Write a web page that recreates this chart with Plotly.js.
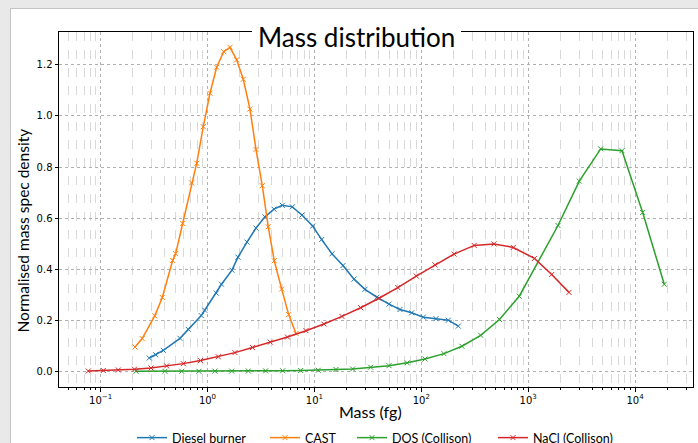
<!DOCTYPE html>
<html>
<head>
<meta charset="utf-8">
<script src="https://cdn.plot.ly/plotly-3.0.1.min.js"></script>
<style>
  html, body { margin: 0; padding: 0; background: #e9e9e9; width: 698px; height: 443px; overflow: hidden; }
  #frame { position: absolute; left: 10px; top: 8px; width: 688px; height: 435px; border-left: 1px solid #c4c4c4; border-top: 1px solid #c4c4c4; background: #ffffff; }
  #chart { position: absolute; left: 0; top: 0; width: 687px; height: 434px; }
</style>
</head>
<body>
<div id="frame"><div id="chart"></div></div>
<script>
// ---- Data ----
const dieselMass = [0.2855, 0.327, 0.386, 0.553, 0.661, 0.875, 0.942, 1.209, 1.352, 1.694, 1.929, 2.342, 2.843, 3.451, 4.19, 5.01, 6.22, 7.65, 9.64, 11.70, 14.61, 18.52, 23.49, 29.73, 38.5, 49.9, 63.2, 81.3, 104.4, 137.2, 178.9, 222];
const dieselDensity = [0.052, 0.065, 0.082, 0.129, 0.164, 0.218, 0.239, 0.306, 0.341, 0.396, 0.447, 0.506, 0.561, 0.605, 0.635, 0.650, 0.644, 0.612, 0.569, 0.516, 0.460, 0.414, 0.361, 0.321, 0.290, 0.263, 0.242, 0.229, 0.212, 0.206, 0.200, 0.177];

const castMass = [0.210, 0.245, 0.321, 0.378, 0.472, 0.504, 0.586, 0.711, 0.793, 0.914, 1.055, 1.219, 1.418, 1.624, 1.875, 2.162, 2.498, 2.843, 3.256, 3.703, 4.215, 4.945, 5.75, 6.73];
const castDensity = [0.095, 0.128, 0.217, 0.289, 0.434, 0.461, 0.579, 0.738, 0.815, 0.958, 1.089, 1.191, 1.252, 1.269, 1.220, 1.144, 1.027, 0.869, 0.727, 0.566, 0.433, 0.322, 0.222, 0.148];

const dosMass = [0.2143, 0.400, 0.574, 0.832, 1.175, 1.684, 2.41, 3.50, 5.05, 7.44, 10.87, 15.92, 22.8, 33.6, 49.9, 73.9, 108.3, 163, 240, 359.5, 538.7, 825.6, 1901, 3008, 4767, 7550, 11780, 18750];
const dosDensity = [0.000, 0.000, 0.000, 0.000, 0.0005, 0.0007, 0.001, 0.0015, 0.002, 0.003, 0.004, 0.007, 0.009, 0.016, 0.022, 0.033, 0.048, 0.069, 0.098, 0.141, 0.203, 0.294, 0.571, 0.745, 0.871, 0.864, 0.622, 0.341];

const naclMass = [0.0767, 0.106, 0.1465, 0.2075, 0.296, 0.415, 0.594, 0.860, 1.262, 1.807, 2.636, 3.87, 5.60, 8.34, 12.3, 18.1, 27.1, 40.2, 60.3, 89.8, 134.3, 202.3, 312.6, 478.6, 725.5, 1145, 1660, 2409];
const naclDensity = [0.001, 0.003, 0.005, 0.008, 0.013, 0.021, 0.030, 0.042, 0.057, 0.073, 0.093, 0.114, 0.134, 0.159, 0.185, 0.215, 0.249, 0.286, 0.328, 0.373, 0.417, 0.459, 0.493, 0.499, 0.485, 0.442, 0.379, 0.309];

const seriesNames = ["Diesel burner", "CAST", "DOS (Collison)", "NaCl (Collison)"];
const seriesColors = ["#1f77b4", "#ff7f0e", "#2ca02c", "#d62728"];

const xTickVals = [0.1, 1, 10, 100, 1000, 10000];
const xTickText = ["10<sup>\u22121</sup>", "10<sup>0</sup>", "10<sup>1</sup>", "10<sup>2</sup>", "10<sup>3</sup>", "10<sup>4</sup>"];
const yTickVals = [0.0, 0.2, 0.4, 0.6, 0.8, 1.0, 1.2];

const titleText = "Mass distribution";
const xTitle = "Mass (fg)";
const yTitle = "Normalised mass spec density";

// minor tick positions (2..9 x each decade)
const minorVals = [];
for (let d = -2; d <= 4; d++) for (let k = 2; k <= 9; k++) minorVals.push(k * Math.pow(10, d));

const xs = [dieselMass, castMass, dosMass, naclMass];
const ys = [dieselDensity, castDensity, dosDensity, naclDensity];
const legendIds = ["legend", "legend2", "legend3", "legend4"];

const traces = xs.map((x, i) => ({
  x: x, y: ys[i], name: seriesNames[i], type: "scatter", mode: "lines+markers",
  legend: legendIds[i],
  line: { color: seriesColors[i], width: 1.5 },
  marker: { symbol: "x-thin", size: 5, color: seriesColors[i], line: { color: seriesColors[i], width: 1 } }
}));

// geometry helpers (div pixels -> paper)
const PL = 48, PT = 23, PW = 634, PH = 355;
const px = v => (v - PL) / PW;
const py = v => 1 - (v - PT) / PH;

// legend boxes: left edges (div px) so entry texts start where the reference shows them
const legendLefts = [121, 254, 341, 482];
const legendFont = { family: "Lato, DejaVu Sans, sans-serif", size: 12.5, color: "#000" };

const layout = {
  width: 687, height: 434,
  margin: { l: PL, r: 5, t: PT, b: 56, autoexpand: false },
  paper_bgcolor: "#ffffff", plot_bgcolor: "#ffffff",
  showlegend: true,
  xaxis: {
    type: "log", range: [-1.389, 4.542], autorange: false,
    tickmode: "array", tickvals: xTickVals, ticktext: xTickText,
    ticks: "outside", ticklen: 3.5, tickwidth: 1, tickcolor: "#000",
    showline: true, mirror: true, linecolor: "#000", linewidth: 1,
    showgrid: true, gridcolor: "#b0b0b0", griddash: "dot", gridwidth: 1,
    zeroline: false,
    tickfont: { family: "DejaVu Sans, sans-serif", size: 10, color: "#000" },
    minor: { tickmode: "array", tickvals: minorVals, ticks: "outside", ticklen: 2, tickcolor: "#000", showgrid: true, gridcolor: "#d9d9d9", griddash: "dash", gridwidth: 1 }
  },
  yaxis: {
    range: [-0.0616, 1.329], autorange: false,
    tickmode: "array", tickvals: yTickVals, tickformat: ".1f",
    ticks: "outside", ticklen: 3.5, tickwidth: 1, tickcolor: "#000",
    showline: true, mirror: true, linecolor: "#000", linewidth: 1,
    showgrid: true, gridcolor: "#b0b0b0", griddash: "dot", gridwidth: 1,
    zeroline: false,
    tickfont: { family: "DejaVu Sans, sans-serif", size: 10, color: "#000" }
  },
  shapes: [
    { type: "rect", xref: "paper", yref: "paper", layer: "above",
      x0: px(241), x1: px(450), y0: py(39), y1: py(11),
      fillcolor: "#ffffff", line: { width: 0 } }
  ],
  annotations: [
    { text: titleText, xref: "paper", yref: "paper", x: px(345.5), y: py(28), xanchor: "center", yanchor: "middle",
      showarrow: false, font: { family: "Lato, sans-serif", size: 26, color: "#000" } },
    { text: xTitle, xref: "paper", yref: "paper", x: px(359), y: py(403), xanchor: "center", yanchor: "middle",
      showarrow: false, font: { family: "Lato, sans-serif", size: 16, color: "#000" } },
    { text: yTitle, xref: "paper", yref: "paper", x: px(11), y: py(221.5), xanchor: "center", yanchor: "middle", textangle: -90,
      showarrow: false, font: { family: "Lato, sans-serif", size: 15.5, color: "#000" } }
  ]
};
legendIds.forEach((id, i) => {
  layout[id] = {
    orientation: "h", x: px(legendLefts[i]), xanchor: "left", y: py(429), yanchor: "middle",
    font: legendFont, bgcolor: "rgba(0,0,0,0)", borderwidth: 0
  };
});

Plotly.newPlot("chart", traces, layout, { staticPlot: true, displayModeBar: false });
</script>
</body>
</html>
